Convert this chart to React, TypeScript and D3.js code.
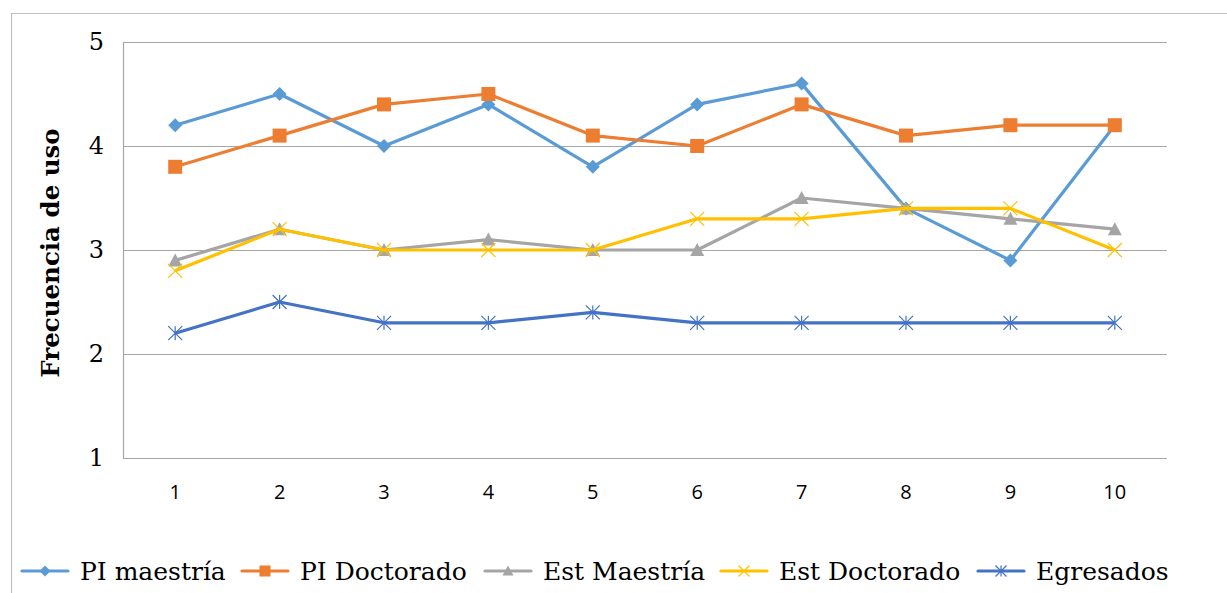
import React, { useEffect, useRef } from "react";
import * as d3 from "d3";

const categories = ["1", "2", "3", "4", "5", "6", "7", "8", "9", "10"];
const seriesNames = ["PI maestría", "PI Doctorado", "Est Maestría", "Est Doctorado", "Egresados"];
const piMaestria = [4.2, 4.5, 4.0, 4.4, 3.8, 4.4, 4.6, 3.4, 2.9, 4.2];
const piDoctorado = [3.8, 4.1, 4.4, 4.5, 4.1, 4.0, 4.4, 4.1, 4.2, 4.2];
const estMaestria = [2.9, 3.2, 3.0, 3.1, 3.0, 3.0, 3.5, 3.4, 3.3, 3.2];
const estDoctorado = [2.8, 3.2, 3.0, 3.0, 3.0, 3.3, 3.3, 3.4, 3.4, 3.0];
const egresados = [2.2, 2.5, 2.3, 2.3, 2.4, 2.3, 2.3, 2.3, 2.3, 2.3];
const yTicks = [1, 2, 3, 4, 5];
const colors = ["#5B9BD5", "#ED7D31", "#A5A5A5", "#FFC000", "#4472C4"];
const markers = ["diamond", "square", "triangle", "x", "star"];

const W = 1227;
const H = 593;
const plot = { left: 123, right: 1167, top: 42, bottom: 458 };
const serif = "DejaVu Serif";
const legendStarts = [22, 242, 485, 721, 978];

function drawMarker(g: any, type: string, x: number, y: number, color: string, s: number) {
  if (type === "diamond") {
    g.append("path")
      .attr("d", `M${x},${y - s / 2}L${x + s / 2},${y}L${x},${y + s / 2}L${x - s / 2},${y}Z`)
      .attr("fill", color);
  } else if (type === "square") {
    g.append("rect")
      .attr("x", x - s / 2).attr("y", y - s / 2).attr("width", s).attr("height", s)
      .attr("fill", color);
  } else if (type === "triangle") {
    g.append("path")
      .attr("d", `M${x},${y - s / 2}L${x + s / 2},${y + s / 2 - 1}L${x - s / 2},${y + s / 2 - 1}Z`)
      .attr("fill", color);
  } else if (type === "x") {
    const h = s / 2;
    g.append("path")
      .attr("d", `M${x - h},${y - h}L${x + h},${y + h}M${x - h},${y + h}L${x + h},${y - h}`)
      .attr("stroke", color).attr("stroke-width", 1.2).attr("fill", "none");
  } else if (type === "star") {
    const h = s / 2;
    g.append("path")
      .attr("d", `M${x - h},${y - h}L${x + h},${y + h}M${x - h},${y + h}L${x + h},${y - h}M${x},${y - h}L${x},${y + h}`)
      .attr("stroke", color).attr("stroke-width", 1.2).attr("fill", "none");
  }
}

export default function App() {
  const ref = useRef<SVGSVGElement>(null);
  useEffect(() => {
    const svg = d3.select(ref.current);
    svg.selectAll("*").remove();
    const series = [piMaestria, piDoctorado, estMaestria, estDoctorado, egresados];

    svg.append("rect").attr("width", W).attr("height", H).attr("fill", "#fff");
    svg.append("path")
      .attr("d", `M11.5,${H + 5}L11.5,13.5L${W + 5},13.5`)
      .attr("stroke", "#BFBFBF").attr("stroke-width", 1.2).attr("fill", "none");

    const x = d3.scaleBand().domain(categories).range([plot.left, plot.right]);
    const y = d3.scaleLinear().domain([1, 5]).range([plot.bottom, plot.top]);

    svg.append("g").selectAll("line").data(yTicks).join("line")
      .attr("x1", plot.left).attr("x2", plot.right)
      .attr("y1", (d) => Math.round(y(d)) + 0.5).attr("y2", (d) => Math.round(y(d)) + 0.5)
      .attr("stroke", "#A6A6A6").attr("stroke-width", 1.2);
    svg.append("line")
      .attr("x1", plot.left + 0.5).attr("x2", plot.left + 0.5)
      .attr("y1", plot.top).attr("y2", plot.bottom)
      .attr("stroke", "#A6A6A6").attr("stroke-width", 1.2);

    svg.append("g").selectAll("text").data(yTicks).join("text")
      .attr("x", 104).attr("y", (d) => y(d))
      .attr("dy", "0.35em")
      .attr("text-anchor", "end")
      .style("font-family", serif).style("font-size", "24px").attr("fill", "#000")
      .text((d) => String(d));

    svg.append("g").selectAll("text").data(categories).join("text")
      .attr("x", (d) => (x(d) as number) + x.bandwidth() / 2)
      .attr("y", 499)
      .attr("text-anchor", "middle")
      .style("font-family", "'Liberation Sans Narrow', 'Open Sans', sans-serif")
      .style("font-size", "20px").attr("fill", "#000")
      .text((d) => d);

    svg.append("text")
      .attr("transform", `translate(59,253) rotate(-90)`)
      .attr("text-anchor", "middle")
      .style("font-family", serif).style("font-weight", "bold")
      .style("font-size", "24.5px").attr("fill", "#000")
      .text("Frecuencia de uso");

    const line = d3.line<number>()
      .x((_, i) => (x(categories[i]) as number) + x.bandwidth() / 2)
      .y((d) => y(d));

    series.forEach((vals, si) => {
      svg.append("path").datum(vals).attr("d", line)
        .attr("fill", "none").attr("stroke", colors[si]).attr("stroke-width", 3.2)
        .attr("stroke-linejoin", "round");
      const g = svg.append("g");
      vals.forEach((v, i) => {
        drawMarker(g, markers[si], (x(categories[i]) as number) + x.bandwidth() / 2, y(v), colors[si], 14);
      });
    });

    const ly = 571;
    const lg = svg.append("g");
    seriesNames.forEach((name, si) => {
      const sx = legendStarts[si];
      lg.append("line").attr("x1", sx).attr("x2", sx + 46).attr("y1", ly).attr("y2", ly)
        .attr("stroke", colors[si]).attr("stroke-width", 3.2).attr("stroke-linecap", "round");
      drawMarker(lg, markers[si], sx + 23, ly, colors[si], 11);
      lg.append("text").attr("x", sx + 58).attr("y", ly).attr("dy", "0.35em")
        .style("font-family", serif).style("font-size", "25px").attr("fill", "#000")
        .text(name);
    });
  }, []);
  return <svg ref={ref} width={W} height={H} style={{ display: "block", position: "absolute", left: 0, top: 0 }} />;
}
